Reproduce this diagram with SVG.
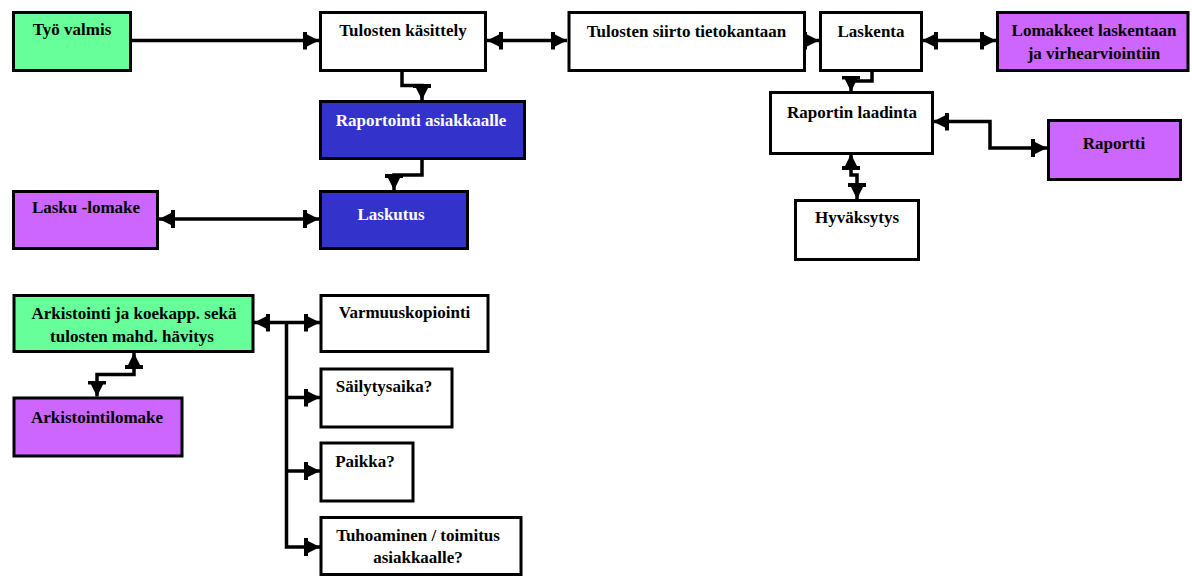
<svg xmlns="http://www.w3.org/2000/svg" width="1192" height="577" viewBox="0 0 1192 577">
  <style>
    .box { stroke: #000; stroke-width: 3; }
    .white { fill: #ffffff; }
    .green { fill: #66ff99; }
    .purple { fill: #cc66ff; }
    .blue { fill: #3333cc; }
    .lbl { font-family: "Liberation Serif", "Times New Roman", serif; font-size: 17px; font-weight: bold; text-anchor: middle; fill: #000; }
    .lbl.inv { fill: #ffffff; }
    .conn { fill: none; stroke: #000; stroke-width: 3.5; stroke-linejoin: miter; }
  </style>
  <defs>
    <marker id="ah" viewBox="0 0 16 18" refX="16" refY="9" markerWidth="16" markerHeight="18" markerUnits="userSpaceOnUse" orient="auto-start-reverse">
      <path d="M0,0 H4 V3 L16,9 L4,15 V18 H0 Z" fill="#000"/>
    </marker>
  </defs>

  <rect width="1192" height="577" fill="#ffffff"/>

  <!-- connectors -->
  <g id="connectors">
    <path class="conn" d="M132,40.5 H319" marker-end="url(#ah)"/>
    <path class="conn" d="M487,40.5 H567" marker-start="url(#ah)" marker-end="url(#ah)"/>
    <path class="conn" d="M805,40.5 H819" marker-end="url(#ah)"/>
    <path class="conn" d="M922,40.5 H996" marker-start="url(#ah)" marker-end="url(#ah)"/>
    <path class="conn" d="M402,72 V85.5 H422 V100" marker-end="url(#ah)"/>
    <path class="conn" d="M422,160 V175 H394 V190" marker-end="url(#ah)"/>
    <path class="conn" d="M159,219 H319" marker-start="url(#ah)" marker-end="url(#ah)"/>
    <path class="conn" d="M872,72 V81 H851 V91.5" marker-end="url(#ah)"/>
    <path class="conn" d="M933,121.5 H990 V148 H1047" marker-start="url(#ah)" marker-end="url(#ah)"/>
    <path class="conn" d="M851,154 V175 H857 V199" marker-start="url(#ah)" marker-end="url(#ah)"/>
    <path class="conn" d="M254,322.5 H320" marker-start="url(#ah)" marker-end="url(#ah)"/>
    <path class="conn" d="M286.5,322.5 V547 H320" marker-end="url(#ah)"/>
    <path class="conn" d="M286.5,397.5 H320" marker-end="url(#ah)"/>
    <path class="conn" d="M286.5,471 H320" marker-end="url(#ah)"/>
    <path class="conn" d="M134,353 V374.5 H97 V396.5" marker-start="url(#ah)" marker-end="url(#ah)"/>
  </g>

  <!-- nodes -->
  <g id="tyo-valmis">
    <rect class="box green" x="13.5" y="12.5" width="117" height="58"/>
    <text class="lbl" x="72" y="35">Työ valmis</text>
  </g>
  <g id="tulosten-kasittely">
    <rect class="box white" x="320.5" y="12.5" width="165" height="58"/>
    <text class="lbl" x="403" y="36">Tulosten käsittely</text>
  </g>
  <g id="tulosten-siirto">
    <rect class="box white" x="569" y="12.5" width="235.5" height="58"/>
    <text class="lbl" x="686.5" y="37">Tulosten siirto tietokantaan</text>
  </g>
  <g id="laskenta">
    <rect class="box white" x="820.5" y="12.5" width="101" height="58"/>
    <text class="lbl" x="871" y="37">Laskenta</text>
  </g>
  <g id="lomakkeet">
    <rect class="box purple" x="997.5" y="12.5" width="190.5" height="58"/>
    <text class="lbl" x="1094" y="36">Lomakkeet laskentaan</text>
    <text class="lbl" x="1094" y="59">ja virhearviointiin</text>
  </g>
  <g id="raportointi-asiakkaalle">
    <rect class="box blue" x="320.5" y="101.5" width="204" height="57"/>
    <text class="lbl inv" x="421" y="126">Raportointi asiakkaalle</text>
  </g>
  <g id="laskutus">
    <rect class="box blue" x="320.5" y="191.5" width="147" height="57"/>
    <text class="lbl inv" x="391" y="220">Laskutus</text>
  </g>
  <g id="lasku-lomake">
    <rect class="box purple" x="13.5" y="191.5" width="144" height="57"/>
    <text class="lbl" x="86" y="213">Lasku -lomake</text>
  </g>
  <g id="raportin-laadinta">
    <rect class="box white" x="770.5" y="92.5" width="162" height="61"/>
    <text class="lbl" x="852" y="117.5">Raportin laadinta</text>
  </g>
  <g id="raportti">
    <rect class="box purple" x="1048.5" y="120.5" width="132" height="59"/>
    <text class="lbl" x="1114" y="149">Raportti</text>
  </g>
  <g id="hyvaksytys">
    <rect class="box white" x="795.5" y="200.5" width="123" height="59"/>
    <text class="lbl" x="857" y="223">Hyväksytys</text>
  </g>
  <g id="arkistointi">
    <rect class="box green" x="14" y="295.5" width="239" height="56"/>
    <text class="lbl" x="134" y="319">Arkistointi ja koekapp. sekä</text>
    <text class="lbl" x="132" y="342">tulosten mahd. hävitys</text>
  </g>
  <g id="arkistointilomake">
    <rect class="box purple" x="14" y="398" width="168" height="58"/>
    <text class="lbl" x="97" y="423">Arkistointilomake</text>
  </g>
  <g id="varmuuskopiointi">
    <rect class="box white" x="321" y="295.5" width="167" height="56"/>
    <text class="lbl" x="404.5" y="318">Varmuuskopiointi</text>
  </g>
  <g id="sailytysaika">
    <rect class="box white" x="321" y="369" width="131" height="58"/>
    <text class="lbl" x="384" y="392">Säilytysaika?</text>
  </g>
  <g id="paikka">
    <rect class="box white" x="321" y="443" width="92" height="58"/>
    <text class="lbl" x="365" y="467">Paikka?</text>
  </g>
  <g id="tuhoaminen">
    <rect class="box white" x="321" y="517.5" width="200" height="57"/>
    <text class="lbl" x="418" y="541">Tuhoaminen / toimitus</text>
    <text class="lbl" x="418" y="563">asiakkaalle?</text>
  </g>
</svg>
